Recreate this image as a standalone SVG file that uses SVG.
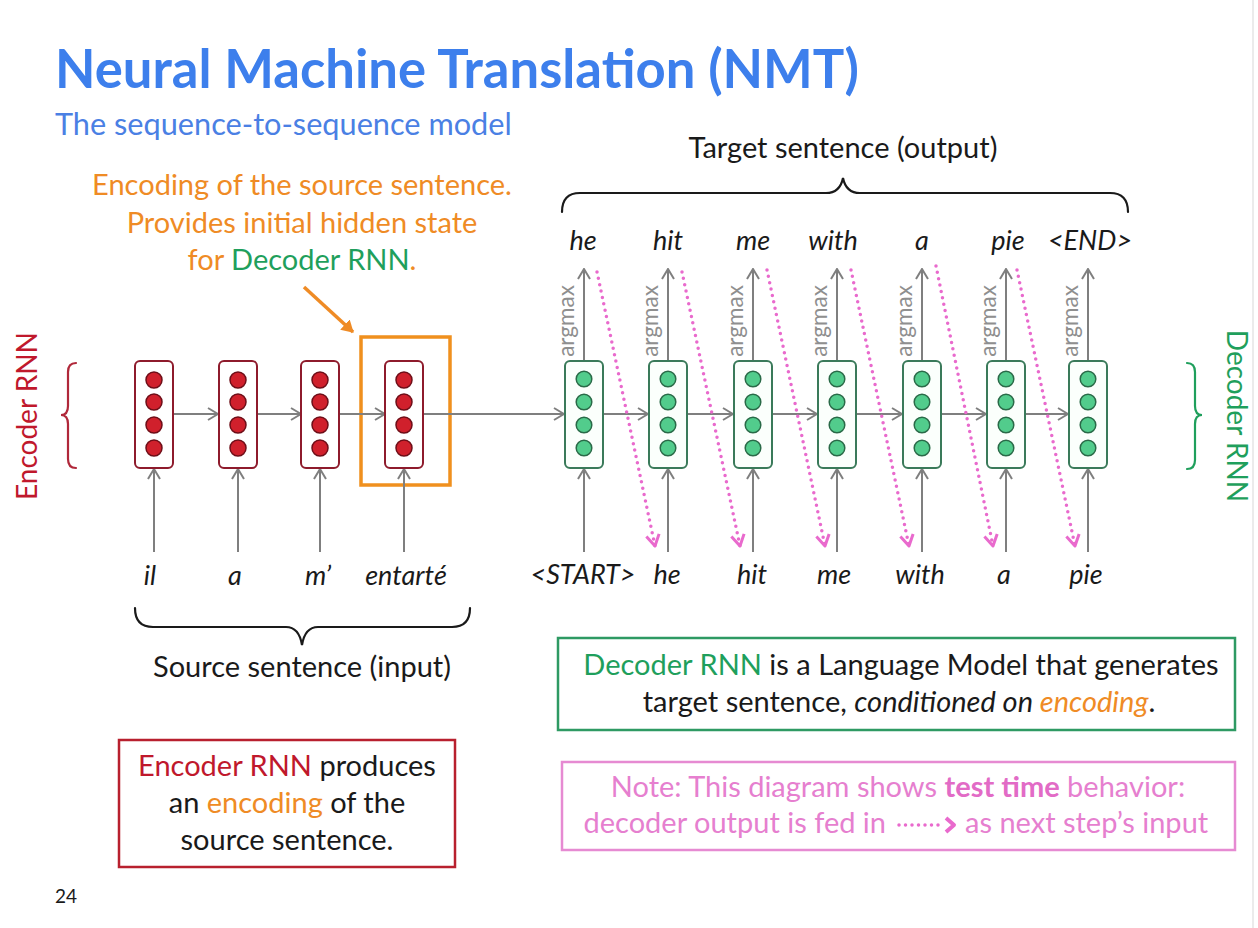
<svg xmlns="http://www.w3.org/2000/svg" width="1258" height="928" viewBox="0 0 1258 928">
  <defs>
    <style>
      text { font-family: Lato, "Liberation Sans", sans-serif; fill: #1a1a1a; }
      .title { font-size: 52.6px; font-weight: bold; fill: #3d7fec; }
      .sub { font-size: 30.7px; fill: #4a80e4; }
      .orange { fill: #ef8b25; }
      .green { fill: #1f9f5c; }
      .red { fill: #c0182c; }
      .pink { fill: #e67fcf; }
      .ann { font-size: 29px; text-anchor: middle; }
      .note { font-size: 29px; }
      .word { font-size: 27px; font-style: italic; text-anchor: middle; }
      .argmax { font-size: 22.5px; fill: #8f8f8f; text-anchor: middle; }
      .side { font-size: 28px; text-anchor: middle; }
      .enc-cell { fill: #ffffff; stroke: #8e1b2c; stroke-width: 2; }
      .enc-dot { fill: #d0202c; stroke: #6e0e18; stroke-width: 1.5; }
      .dec-cell { fill: #fbfffc; stroke: #3a7a5a; stroke-width: 2; }
      .dec-dot { fill: #52cc8c; stroke: #2a6a48; stroke-width: 1.5; }
      .conn { stroke: #7f7f7f; stroke-width: 2; fill: none; marker-end: url(#ah); }
      .feed { stroke: #e96acd; stroke-width: 3.5; stroke-linecap: round; stroke-dasharray: 0 6.5; fill: none; }
      .brace { fill: none; stroke-width: 2.2; stroke-linecap: round; }
    </style>
    <marker id="ah" viewBox="0 0 12 14" refX="11" refY="7" markerWidth="12" markerHeight="14" orient="auto" markerUnits="userSpaceOnUse">
      <path d="M1,1 L11,7 L1,13" fill="none" stroke="#7f7f7f" stroke-width="2"/>
    </marker>
    <marker id="ahp" viewBox="0 0 14 16" refX="12" refY="8" markerWidth="14" markerHeight="16" orient="auto" markerUnits="userSpaceOnUse">
      <path d="M1,1.5 L12,8 L1,14.5" fill="none" stroke="#e96acd" stroke-width="3" stroke-linejoin="round"/>
    </marker>
    <marker id="ahr" viewBox="0 0 12 14" refX="11" refY="7" markerWidth="12" markerHeight="14" orient="auto" markerUnits="userSpaceOnUse">
      <path d="M0,0 L12,7 L0,14 Z" fill="#ef8b25"/>
    </marker>
  </defs>

  <rect width="1258" height="928" fill="#ffffff"/>
  <line x1="1253" y1="0" x2="1253" y2="928" stroke="#e4e4e4" stroke-width="1.5"/>

  <!-- heading -->
  <text class="title" x="55" y="88">Neural Machine Translation (NMT)</text>
  <text class="sub" x="55" y="135">The sequence-to-sequence model</text>

  <!-- encoding annotation -->
  <g id="encoding-note">
    <text class="ann orange" x="302" y="195">Encoding of the source sentence.</text>
    <text class="ann orange" x="302" y="233">Provides initial hidden state</text>
    <text class="ann orange" x="302" y="270">for <tspan class="green">Decoder RNN</tspan>.</text>
    <line x1="304" y1="287" x2="353" y2="332" stroke="#ef8b25" stroke-width="3.5" marker-end="url(#ahr)"/>
    <rect x="361" y="337" width="89" height="148" fill="none" stroke="#f0901e" stroke-width="3.5"/>
  </g>

  <!-- side labels and braces -->
  <g id="encoder-label">
    <path class="brace" stroke="#b0283a" d="M76,363 Q68,363 68,372 L68,406 Q68,415 61,415 Q68,415 68,424 L68,459 Q68,468 76,468"/>
    <text class="side red" transform="translate(37,416) rotate(-90)">Encoder RNN</text>
  </g>
  <g id="decoder-label">
    <path class="brace" stroke="#1f9f5c" d="M1187,363 Q1195,363 1195,372 L1195,406 Q1195,415 1202,415 Q1195,415 1195,424 L1195,460 Q1195,469 1187,469"/>
    <text class="side green" transform="translate(1227,416) rotate(90)">Decoder RNN</text>
  </g>

  <!-- target sentence -->
  <g id="target-label">
    <text class="ann" x="843" y="158">Target sentence (output)</text>
    <path class="brace" stroke="#1a1a1a" d="M562,212 Q562,193 580,193 L826,193 Q840,193 843,178 Q846,193 860,193 L1110,193 Q1128,193 1128,212"/>
  </g>

  <!-- source sentence -->
  <g id="source-label">
    <path class="brace" stroke="#1a1a1a" d="M135,608 Q135,627 153,627 L286,627 Q299,627 302,645 Q305,627 318,627 L452,627 Q470,627 470,608"/>
    <text class="ann" x="302" y="677">Source sentence (input)</text>
  </g>

  <!-- connectors -->
  <g id="connectors">
    <!-- encoder inputs -->
    <line class="conn" x1="154" y1="552" x2="154" y2="469"/>
    <line class="conn" x1="238" y1="552" x2="238" y2="469"/>
    <line class="conn" x1="320" y1="552" x2="320" y2="469"/>
    <line class="conn" x1="404" y1="552" x2="404" y2="469"/>
    <!-- recurrent links -->
    <line class="conn" x1="173" y1="414" x2="218" y2="414"/>
    <line class="conn" x1="257" y1="414" x2="301" y2="414"/>
    <line class="conn" x1="339" y1="414" x2="385" y2="414"/>
    <line class="conn" x1="423" y1="414" x2="564" y2="414"/>
    <line class="conn" x1="603" y1="414" x2="648" y2="414"/>
    <line class="conn" x1="687" y1="414" x2="733" y2="414"/>
    <line class="conn" x1="772" y1="414" x2="817" y2="414"/>
    <line class="conn" x1="856" y1="414" x2="902" y2="414"/>
    <line class="conn" x1="941" y1="414" x2="986" y2="414"/>
    <line class="conn" x1="1025" y1="414" x2="1068" y2="414"/>
    <!-- decoder inputs -->
    <line class="conn" x1="584" y1="552" x2="584" y2="469"/>
    <line class="conn" x1="668" y1="552" x2="668" y2="469"/>
    <line class="conn" x1="753" y1="552" x2="753" y2="469"/>
    <line class="conn" x1="837" y1="552" x2="837" y2="469"/>
    <line class="conn" x1="922" y1="552" x2="922" y2="469"/>
    <line class="conn" x1="1006" y1="552" x2="1006" y2="469"/>
    <line class="conn" x1="1088" y1="552" x2="1088" y2="469"/>
    <!-- argmax outputs -->
    <line class="conn" x1="584" y1="361" x2="584" y2="269"/>
    <line class="conn" x1="668" y1="361" x2="668" y2="269"/>
    <line class="conn" x1="753" y1="361" x2="753" y2="269"/>
    <line class="conn" x1="837" y1="361" x2="837" y2="269"/>
    <line class="conn" x1="922" y1="361" x2="922" y2="269"/>
    <line class="conn" x1="1006" y1="361" x2="1006" y2="269"/>
    <line class="conn" x1="1088" y1="361" x2="1088" y2="269"/>
    <!-- output fed back as next input -->
    <line class="feed" x1="597" y1="272" x2="655" y2="546" marker-end="url(#ahp)"/>
    <line class="feed" x1="682" y1="272" x2="740" y2="546" marker-end="url(#ahp)"/>
    <line class="feed" x1="767" y1="270" x2="825" y2="546" marker-end="url(#ahp)"/>
    <line class="feed" x1="851" y1="270" x2="909" y2="546" marker-end="url(#ahp)"/>
    <line class="feed" x1="936" y1="266" x2="993" y2="546" marker-end="url(#ahp)"/>
    <line class="feed" x1="1017" y1="270" x2="1075" y2="546" marker-end="url(#ahp)"/>
  </g>

  <!-- encoder cells -->
  <g id="enc1">
    <rect class="enc-cell" x="135" y="361" width="38" height="107" rx="5"/>
    <circle class="enc-dot" cx="154" cy="380" r="8"/><circle class="enc-dot" cx="154" cy="402" r="8"/>
    <circle class="enc-dot" cx="154" cy="425" r="8"/><circle class="enc-dot" cx="154" cy="448" r="8"/>
    <text class="word" x="150" y="585">il</text>
  </g>
  <g id="enc2">
    <rect class="enc-cell" x="219" y="361" width="38" height="107" rx="5"/>
    <circle class="enc-dot" cx="238" cy="380" r="8"/><circle class="enc-dot" cx="238" cy="402" r="8"/>
    <circle class="enc-dot" cx="238" cy="425" r="8"/><circle class="enc-dot" cx="238" cy="448" r="8"/>
    <text class="word" x="235" y="585">a</text>
  </g>
  <g id="enc3">
    <rect class="enc-cell" x="301" y="361" width="38" height="107" rx="5"/>
    <circle class="enc-dot" cx="320" cy="380" r="8"/><circle class="enc-dot" cx="320" cy="402" r="8"/>
    <circle class="enc-dot" cx="320" cy="425" r="8"/><circle class="enc-dot" cx="320" cy="448" r="8"/>
    <text class="word" x="318" y="585">m’</text>
  </g>
  <g id="enc4">
    <rect class="enc-cell" x="385" y="361" width="38" height="107" rx="5"/>
    <circle class="enc-dot" cx="404" cy="380" r="8"/><circle class="enc-dot" cx="404" cy="402" r="8"/>
    <circle class="enc-dot" cx="404" cy="425" r="8"/><circle class="enc-dot" cx="404" cy="448" r="8"/>
    <text class="word" x="406" y="585">entarté</text>
  </g>

  <!-- decoder cells -->
  <g id="dec1">
    <rect class="dec-cell" x="565" y="361" width="38" height="107" rx="5"/>
    <circle class="dec-dot" cx="584" cy="379" r="7.8"/><circle class="dec-dot" cx="584" cy="402" r="7.8"/>
    <circle class="dec-dot" cx="584" cy="425" r="7.8"/><circle class="dec-dot" cx="584" cy="448" r="7.8"/>
    <text class="argmax" transform="translate(574,321) rotate(-90)">argmax</text>
    <text class="word" x="583" y="250">he</text>
    <text class="word" x="583" y="584">&lt;START&gt;</text>
  </g>
  <g id="dec2">
    <rect class="dec-cell" x="649" y="361" width="38" height="107" rx="5"/>
    <circle class="dec-dot" cx="668" cy="379" r="7.8"/><circle class="dec-dot" cx="668" cy="402" r="7.8"/>
    <circle class="dec-dot" cx="668" cy="425" r="7.8"/><circle class="dec-dot" cx="668" cy="448" r="7.8"/>
    <text class="argmax" transform="translate(658,321) rotate(-90)">argmax</text>
    <text class="word" x="668" y="250">hit</text>
    <text class="word" x="667" y="584">he</text>
  </g>
  <g id="dec3">
    <rect class="dec-cell" x="734" y="361" width="38" height="107" rx="5"/>
    <circle class="dec-dot" cx="753" cy="379" r="7.8"/><circle class="dec-dot" cx="753" cy="402" r="7.8"/>
    <circle class="dec-dot" cx="753" cy="425" r="7.8"/><circle class="dec-dot" cx="753" cy="448" r="7.8"/>
    <text class="argmax" transform="translate(743,321) rotate(-90)">argmax</text>
    <text class="word" x="753" y="250">me</text>
    <text class="word" x="752" y="584">hit</text>
  </g>
  <g id="dec4">
    <rect class="dec-cell" x="818" y="361" width="38" height="107" rx="5"/>
    <circle class="dec-dot" cx="837" cy="379" r="7.8"/><circle class="dec-dot" cx="837" cy="402" r="7.8"/>
    <circle class="dec-dot" cx="837" cy="425" r="7.8"/><circle class="dec-dot" cx="837" cy="448" r="7.8"/>
    <text class="argmax" transform="translate(827,321) rotate(-90)">argmax</text>
    <text class="word" x="833" y="250">with</text>
    <text class="word" x="834" y="584">me</text>
  </g>
  <g id="dec5">
    <rect class="dec-cell" x="903" y="361" width="38" height="107" rx="5"/>
    <circle class="dec-dot" cx="922" cy="379" r="7.8"/><circle class="dec-dot" cx="922" cy="402" r="7.8"/>
    <circle class="dec-dot" cx="922" cy="425" r="7.8"/><circle class="dec-dot" cx="922" cy="448" r="7.8"/>
    <text class="argmax" transform="translate(912,321) rotate(-90)">argmax</text>
    <text class="word" x="922" y="250">a</text>
    <text class="word" x="920" y="584">with</text>
  </g>
  <g id="dec6">
    <rect class="dec-cell" x="987" y="361" width="38" height="107" rx="5"/>
    <circle class="dec-dot" cx="1006" cy="379" r="7.8"/><circle class="dec-dot" cx="1006" cy="402" r="7.8"/>
    <circle class="dec-dot" cx="1006" cy="425" r="7.8"/><circle class="dec-dot" cx="1006" cy="448" r="7.8"/>
    <text class="argmax" transform="translate(996,321) rotate(-90)">argmax</text>
    <text class="word" x="1008" y="250">pie</text>
    <text class="word" x="1004" y="584">a</text>
  </g>
  <g id="dec7">
    <rect class="dec-cell" x="1069" y="361" width="38" height="107" rx="5"/>
    <circle class="dec-dot" cx="1088" cy="379" r="7.8"/><circle class="dec-dot" cx="1088" cy="402" r="7.8"/>
    <circle class="dec-dot" cx="1088" cy="425" r="7.8"/><circle class="dec-dot" cx="1088" cy="448" r="7.8"/>
    <text class="argmax" transform="translate(1078,321) rotate(-90)">argmax</text>
    <text class="word" x="1090" y="250">&lt;END&gt;</text>
    <text class="word" x="1086" y="584">pie</text>
  </g>

  <!-- explanation boxes -->
  <g id="encoder-box">
    <rect x="119" y="740" width="336" height="127" fill="#ffffff" stroke="#b8202e" stroke-width="2.5"/>
    <text class="ann" x="287" y="776"><tspan class="red">Encoder RNN</tspan> produces</text>
    <text class="ann" x="287" y="813">an <tspan class="orange">encoding</tspan> of the</text>
    <text class="ann" x="287" y="850">source sentence.</text>
  </g>
  <g id="decoder-box">
    <rect x="558" y="638" width="677" height="92" fill="#ffffff" stroke="#2e9a63" stroke-width="2.5"/>
    <text class="ann" x="901" y="675"><tspan class="green">Decoder RNN</tspan> is a Language Model that generates</text>
    <text class="ann" x="899" y="712">target sentence, <tspan font-style="italic">conditioned on </tspan><tspan font-style="italic" class="orange">encoding</tspan>.</text>
  </g>
  <g id="note-box">
    <rect x="562" y="762" width="673" height="88" fill="#ffffff" stroke="#e68ad2" stroke-width="2.5"/>
    <text class="ann pink" x="898" y="797">Note: This diagram shows <tspan font-weight="bold" fill="#e26bc6">test time</tspan> behavior:</text>
    <text class="note pink" x="886" y="833" text-anchor="end">decoder output is fed in</text>
    <line class="feed" x1="899" y1="825" x2="939" y2="825" stroke-width="3.2" stroke-dasharray="0 10"/>
    <path d="M946,818 L954,825 L946,832" fill="none" stroke="#e96acd" stroke-width="4" stroke-linejoin="round"/>
    <text class="note pink" x="965" y="833">as next step’s input</text>
  </g>

  <text x="55" y="903" font-size="19">24</text>
</svg>
